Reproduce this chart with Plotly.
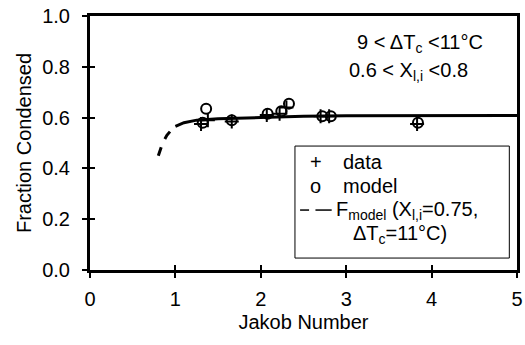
import plotly.graph_objects as go

# data
data_x = [1.30, 1.38, 1.66, 2.07, 2.22, 2.30, 2.70, 2.80, 3.83]
data_y = [0.575, 0.59, 0.585, 0.61, 0.615, 0.64, 0.605, 0.605, 0.575]
model_x = [1.36, 1.32, 1.66, 2.08, 2.24, 2.33, 2.72, 2.82, 3.84]
model_y = [0.635, 0.58, 0.59, 0.615, 0.625, 0.655, 0.605, 0.605, 0.58]
fdash_x = [0.80, 0.85, 0.90, 0.95, 1.00]
fdash_y = [0.45, 0.50, 0.53, 0.55, 0.565]
fsolid_x = [1.00, 1.10, 1.25, 1.50, 2.00, 2.50, 3.00, 4.00, 5.00]
fsolid_y = [0.565, 0.580, 0.590, 0.595, 0.600, 0.605, 0.607, 0.608, 0.608]
x_ticks = [0, 1, 2, 3, 4, 5]
y_ticks = [0.0, 0.2, 0.4, 0.6, 0.8, 1.0]

FONT = "Liberation Sans, Arial, sans-serif"
FS = 20

fig = go.Figure()
fig.add_trace(go.Scatter(x=fdash_x, y=fdash_y, mode="lines",
                         line=dict(color="black", width=3, dash="dash"),
                         showlegend=False))
fig.add_trace(go.Scatter(x=data_x, y=data_y, mode="markers", name="data",
                         showlegend=False,
                         marker=dict(symbol="cross-thin-open", size=10, color="black",
                                     line=dict(color="black", width=2))))
fig.add_trace(go.Scatter(x=model_x, y=model_y, mode="markers", name="model",
                         showlegend=False,
                         marker=dict(symbol="circle-open", size=10, color="black",
                                     line=dict(color="black", width=2))))
fig.add_trace(go.Scatter(x=fsolid_x, y=fsolid_y, mode="lines", showlegend=False,
                         line=dict(color="black", width=3)))

axis_common = dict(showgrid=False, zeroline=False, showline=True, linecolor="black",
                   linewidth=3, mirror=True, ticks="outside", ticklen=5,
                   tickwidth=2, tickcolor="black", ticklabeloverflow="allow",
                   tickfont=dict(family=FONT, size=FS, color="black"))

fig.update_layout(
    width=525, height=345,
    margin=dict(l=90, r=2, t=16, b=75),
    paper_bgcolor="white", plot_bgcolor="white",
    font=dict(family=FONT, size=FS, color="black"),
    showlegend=False,
    xaxis=dict(range=[0, 5], tickvals=x_ticks, ticktext=[str(v) for v in x_ticks],
               title=dict(text="Jakob Number", font=dict(size=FS), standoff=6),
               ticklabelstandoff=4,
               **axis_common),
    yaxis=dict(range=[0, 1], tickvals=y_ticks, ticktext=[f"{v:.1f}" for v in y_ticks],
               title=dict(text="Fraction Condensed", font=dict(size=FS), standoff=6),
               ticklabelstandoff=8,
               **axis_common),
    xaxis2=dict(range=[0, 5], tickvals=x_ticks, overlaying="x", ticks="inside",
                ticklen=5, tickwidth=2, tickcolor="black", showticklabels=False,
                showgrid=False, zeroline=False, showline=False, anchor="y", side="bottom"),
    yaxis2=dict(range=[0, 1], tickvals=y_ticks, overlaying="y", ticks="inside",
                ticklen=5, tickwidth=2, tickcolor="black", showticklabels=False,
                showgrid=False, zeroline=False, showline=False, anchor="x", side="left"),
)
# dummy trace to activate overlay axes
fig.add_trace(go.Scatter(x=[None], y=[None], xaxis="x2", yaxis="y2", showlegend=False))

# manual legend box
fig.add_shape(type="rect", xref="paper", yref="paper", x0=0.480, x1=0.982,
              y0=0.047, y1=0.488, line=dict(color="black", width=1),
              fillcolor="white", layer="above")
leg_rows = [0.425, 0.331, 0.236, 0.138]
fig.add_annotation(x=0.529, y=leg_rows[0], xref="paper", yref="paper", showarrow=False,
                   text="+", font=dict(size=FS), xanchor="center", yanchor="middle")
fig.add_annotation(x=0.529, y=leg_rows[1], xref="paper", yref="paper", showarrow=False,
                   text="o", font=dict(size=FS), xanchor="center", yanchor="middle")
fig.add_annotation(x=0.587, y=leg_rows[0], xref="paper", yref="paper", showarrow=False,
                   text="data", font=dict(size=FS), xanchor="left", yanchor="middle")
fig.add_annotation(x=0.587, y=leg_rows[1], xref="paper", yref="paper", showarrow=False,
                   text="model", font=dict(size=FS), xanchor="left", yanchor="middle")
fig.add_shape(type="line", xref="paper", yref="paper", x0=0.492, x1=0.528,
              y0=leg_rows[2], y1=leg_rows[2], line=dict(color="black", width=1.5, dash="dash"),
              layer="above")
fig.add_shape(type="line", xref="paper", yref="paper", x0=0.528, x1=0.566,
              y0=leg_rows[2], y1=leg_rows[2], line=dict(color="black", width=1.5),
              layer="above")
fig.add_annotation(x=0.572, y=leg_rows[2], xref="paper", yref="paper", showarrow=False,
                   text="F<sub>model</sub> (X<sub>l,i</sub>=0.75,", font=dict(size=FS),
                   xanchor="left", yanchor="middle")
fig.add_annotation(x=0.612, y=leg_rows[3], xref="paper", yref="paper", showarrow=False,
                   text="ΔT<sub>c</sub>=11°C)", font=dict(size=FS),
                   xanchor="left", yanchor="middle")

fig.add_annotation(x=0.924, y=0.89, xref="paper", yref="paper", xanchor="right",
                   yanchor="middle", showarrow=False,
                   text="9 < ΔT<sub>c</sub> <11°C", font=dict(size=FS))
fig.add_annotation(x=0.891, y=0.78, xref="paper", yref="paper", xanchor="right",
                   yanchor="middle", showarrow=False,
                   text="0.6 < X<sub>l,i</sub> <0.8", font=dict(size=FS))

fig.write_html("out.html", post_script="document.body.style.margin='0px';",
               config={"displayModeBar": False})
